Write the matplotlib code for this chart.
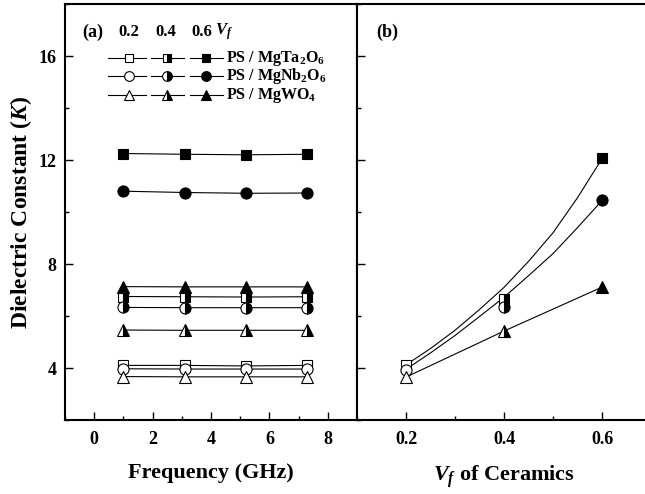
import matplotlib
matplotlib.use("Agg")
import matplotlib.pyplot as plt
from matplotlib.ticker import MultipleLocator

plt.rcParams["font.family"] = "Liberation Serif"
plt.rcParams["font.weight"] = "bold"
plt.rcParams["mathtext.fontset"] = "custom"
plt.rcParams["mathtext.rm"] = "Liberation Serif:bold"
plt.rcParams["mathtext.it"] = "Liberation Serif:bold:italic"
plt.rcParams["mathtext.bf"] = "Liberation Serif:bold"

# ---- panel (a): K vs frequency ----
freq_ghz = [1.0, 3.1, 5.2, 7.3]
ta_02 = [4.10, 4.10, 4.08, 4.10]
ta_04 = [6.75, 6.74, 6.73, 6.74]
ta_06 = [12.25, 12.22, 12.20, 12.22]
nb_02 = [3.97, 3.96, 3.96, 3.96]
nb_04 = [6.33, 6.32, 6.32, 6.32]
nb_06 = [10.80, 10.75, 10.72, 10.73]
w_02 = [3.67, 3.66, 3.66, 3.66]
w_04 = [5.46, 5.45, 5.45, 5.45]
w_06 = [7.13, 7.12, 7.12, 7.12]

# ---- panel (b): K vs Vf ----
vf = [0.2, 0.4, 0.6]
ta_vf = [4.10, 6.66, 12.08]
nb_vf = [3.92, 6.36, 10.45]
w_vf = [3.65, 5.42, 7.11]
# fitted curves
vf_fit = [0.20, 0.25, 0.30, 0.35, 0.40, 0.45, 0.50, 0.55, 0.60]
ta_fit = [4.12, 4.75, 5.45, 6.25, 7.10, 8.10, 9.20, 10.55, 12.05]
nb_fit = [3.95, 4.58, 5.25, 5.98, 6.72, 7.55, 8.40, 9.40, 10.44]

labels = [r"PS / MgTa$_2$O$_6$", r"PS / MgNb$_2$O$_6$", r"PS / MgWO$_4$"]
vf_cols = ["0.2", "0.4", "0.6"]
markers = ["s", "o", "^"]
msizes = [7, 8, 8]

fig = plt.figure(figsize=(6.45, 4.94), dpi=100)
ax1 = fig.add_axes([65 / 645, 74 / 494, 292 / 645, 416 / 494])
ax2 = fig.add_axes([357 / 645, 74 / 494, 294 / 645, 416 / 494])


def style(m, fill):
    kw = dict(marker=m, color="black", lw=0.8, markeredgecolor="black",
              markeredgewidth=0.8)
    if fill == "open":
        kw.update(markerfacecolor="white")
    elif fill == "half":
        kw.update(markerfacecolor="black", markerfacecoloralt="white",
                  fillstyle="right")
    else:
        kw.update(markerfacecolor="black")
    return kw


series_a = [
    (ta_02, 0, "open"), (ta_04, 0, "half"), (ta_06, 0, "full"),
    (nb_02, 1, "open"), (nb_04, 1, "half"), (nb_06, 1, "full"),
    (w_02, 2, "open"), (w_04, 2, "half"), (w_06, 2, "full"),
]
for vals, i, fill in series_a:
    ax1.plot(freq_ghz, vals, markersize=msizes[i], **style(markers[i], fill))

# panel (b): fitted curves + data
ax2.plot(vf_fit, ta_fit, color="black", lw=0.8)
ax2.plot(vf_fit, nb_fit, color="black", lw=0.8)
ax2.plot(vf, w_vf, color="black", lw=0.8)
for vals, i in [(ta_vf, 0), (nb_vf, 1), (w_vf, 2)]:
    for x, y, fill in zip(vf, vals, ["open", "half", "full"]):
        kw = style(markers[i], fill)
        kw["lw"] = 0
        ax2.plot([x], [y], markersize=msizes[i], **kw)

for ax in (ax1, ax2):
    ax.set_ylim(2, 18)
    ax.yaxis.set_major_locator(MultipleLocator(4))
    ax.yaxis.set_minor_locator(MultipleLocator(2))
    ax.tick_params(which="both", direction="in", width=1, labelsize=13,
                   top=False, right=False)
    ax.tick_params(which="major", length=6)
    ax.tick_params(which="minor", length=3)
    for s in ax.spines.values():
        s.set_linewidth(1.5)

ax1.set_xlim(-1, 9)
ax1.xaxis.set_major_locator(MultipleLocator(2))
ax1.xaxis.set_minor_locator(MultipleLocator(1))
ax1.set_xlabel("Frequency (GHz)", fontsize=16, fontweight="bold", labelpad=11)
ax1.set_ylabel(r"Dielectric Constant ($K$)", fontsize=17, fontweight="bold",
               labelpad=3)
ax1.tick_params(axis="x", pad=8)
ax1.tick_params(axis="y", pad=6)

ax2.set_xlim(0.1, 0.7)
ax2.set_xticks([0.2, 0.4, 0.6])
ax2.set_xticklabels(vf_cols)
ax2.xaxis.set_minor_locator(MultipleLocator(0.1))
ax2.tick_params(axis="y", labelleft=False)
ax2.tick_params(axis="x", pad=8)
ax2.set_xlabel(r"$V_f$ of Ceramics", fontsize=16, fontweight="bold",
               labelpad=11)

ax1.text(0.06, 0.933, "(a)", transform=ax1.transAxes, fontsize=13,
         fontweight="bold", va="center")
ax2.text(0.067, 0.933, "(b)", transform=ax2.transAxes, fontsize=13,
         fontweight="bold", va="center")


# hand-made legend in panel (a), positions in pixels of the axes box
def ax_x(px):
    return (px - 65) / 292


def ax_y(py):
    return 1 - (py - 4) / 416


head_px = [128.5, 166, 202]
mark_px = [128.5, 167, 206]
seg_px = [(108, 146), (151, 184), (190, 223)]
for px, txt in zip(head_px, vf_cols):
    ax1.text(ax_x(px), ax_y(32), txt, transform=ax1.transAxes, fontsize=12,
             fontweight="bold", ha="center", va="center")
ax1.text(ax_x(215), ax_y(32), r"$V_f$", transform=ax1.transAxes, fontsize=12,
         va="center")

row_py = [58, 76, 95]
for r, (py, lab) in enumerate(zip(row_py, labels)):
    y = ax_y(py)
    for mx, (x0, x1), fill in zip(mark_px, seg_px, ["open", "half", "full"]):
        kw = style(markers[r], fill)
        ax1.plot([ax_x(x0), ax_x(mx), ax_x(x1)], [y, y, y],
                 transform=ax1.transAxes, markevery=[1],
                 markersize=msizes[r] - 1, clip_on=False, **kw)
    ax1.text(ax_x(226), y, lab, transform=ax1.transAxes, fontsize=11.5,
             fontweight="bold", va="center")

fig.savefig("out.png", dpi=100)
